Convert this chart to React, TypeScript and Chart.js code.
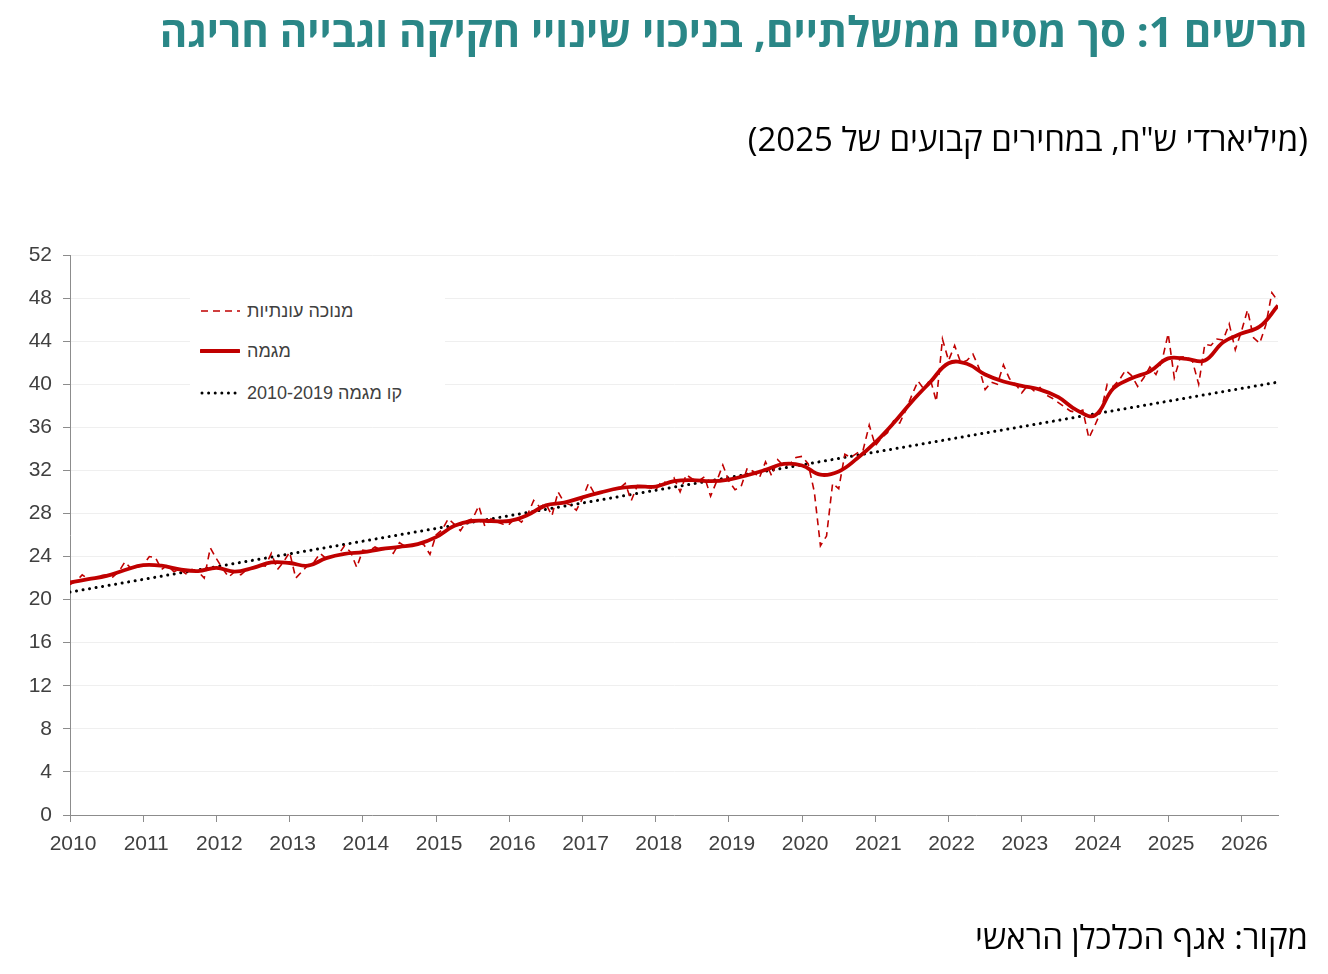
import { useEffect, useRef } from "react";
import { Chart, registerables } from "chart.js";

Chart.register(...registerables);

const START_YEAR = 2010;
const yearTicks = [2010, 2011, 2012, 2013, 2014, 2015, 2016, 2017, 2018, 2019, 2020, 2021, 2022, 2023, 2024, 2025, 2026];
const yTicks = [0, 4, 8, 12, 16, 20, 24, 28, 32, 36, 40, 44, 48, 52];

// monthly, seasonally adjusted (Jan 2010 - Jul 2026)
const seasAdj = [
  21.4, 21.7, 22.3, 21.9, 22.0, 22.2, 22.3, 22.1, 22.6, 23.5, 22.9, 23.0,
  23.2, 24.0, 23.9, 22.8, 23.2, 22.6, 22.8, 22.4, 22.8, 22.6, 22.0, 24.8,
  23.8, 22.9, 22.1, 22.6, 22.3, 22.8, 23.0, 23.2, 23.1, 24.3, 22.8, 23.5,
  24.4, 22.0, 22.6, 23.2, 23.5, 24.3, 23.8, 24.0, 24.2, 25.0, 24.4, 23.0,
  24.6, 24.5, 24.9, 24.6, 24.8, 24.3, 25.3, 24.9, 25.0, 25.3, 25.1, 24.2,
  26.0, 26.5, 27.5, 27.0, 26.4, 27.3, 27.5, 28.7, 26.8, 27.5, 27.2, 27.0,
  27.0, 27.6, 27.2, 27.9, 29.2, 28.6, 28.9, 27.8, 30.0, 29.0, 28.8, 28.3,
  29.4, 30.8, 29.8, 29.9, 30.1, 30.2, 30.3, 30.8, 29.2, 30.6, 30.5, 30.4,
  30.2, 31.0, 30.8, 31.3, 30.0, 31.6, 31.2, 31.0, 31.4, 29.6, 31.0, 32.5,
  31.0, 30.2, 30.5, 32.2, 31.9, 31.3, 32.8, 31.5, 33.0, 32.4, 32.6, 33.2,
  33.3, 32.6, 30.0, 25.0, 25.9, 30.8, 30.3, 33.5, 33.2, 33.6, 33.9, 36.2,
  34.3, 35.0, 35.5, 36.6, 36.4, 37.6, 39.0, 40.3, 39.5, 40.5, 38.4, 44.2,
  42.2, 43.6, 42.0, 42.2, 42.8, 41.5, 39.5, 40.2, 40.0, 41.8, 40.5, 40.0,
  39.2, 39.9, 39.4, 39.7, 39.0, 38.7, 38.3, 37.9, 37.5, 37.4, 37.6, 35.0,
  36.2, 37.5, 40.0, 39.8, 40.4, 41.3, 40.8, 39.8, 40.6, 41.6, 40.9, 42.2,
  44.7, 40.6, 42.5, 42.6, 42.1, 40.0, 43.7, 43.6, 44.2, 44.1, 45.6, 43.2,
  44.9, 46.9, 44.3, 43.8, 45.5, 48.5, 47.7,
];

// trend component, quarterly (Jan, Apr, Jul, Oct)
const trendQuarterly = [
  21.6, 21.9, 22.2, 22.75,
  23.2, 23.15, 22.8, 22.65,
  22.95, 22.6, 22.95, 23.45,
  23.4, 23.15, 23.85, 24.25,
  24.4, 24.7, 24.9, 25.15,
  25.8, 26.85, 27.3, 27.3,
  27.3, 27.85, 28.75, 29.0,
  29.5, 29.95, 30.35, 30.5,
  30.5, 31.0, 31.1, 31.0,
  31.15, 31.55, 32.05, 32.6,
  32.45, 31.6, 31.9, 33.1,
  34.6, 36.4, 38.4, 40.2,
  41.95, 41.9, 40.9, 40.25,
  39.85, 39.5, 38.8, 37.6,
  37.1, 39.6, 40.55, 41.2,
  42.4, 42.35, 42.2, 43.9,
  44.7, 45.35, 47.3,
];

// linear trend fitted on 2010-2019, extended
const trendLineYears = [2010, 2026.5];
const trendLineValues = [20.7, 40.2];

const labels = ["מנוכה עונתיות", "מגמה", "קו מגמה 2010-2019"];

const RED = "#c00000";
const AXIS_GRAY = "#8c8c8c";
const TEXT_GRAY = "#404040";
const AXIS_FONT = "'Liberation Sans', Arial, sans-serif";
const HEAD_FONT = "'Open Sans', 'Liberation Sans', sans-serif";

function ChartCanvas() {
  const canvasRef = useRef<HTMLCanvasElement | null>(null);
  const chartRef = useRef<Chart | null>(null);

  useEffect(() => {
    if (!canvasRef.current) return;

    const saPoints = seasAdj.map((v, i) => ({ x: START_YEAR + i / 12, y: v }));
    const trendPoints = trendQuarterly.map((v, i) => ({ x: START_YEAR + i / 4, y: v }));
    const linePoints = trendLineYears.map((x, i) => ({ x, y: trendLineValues[i] }));

    chartRef.current = new Chart(canvasRef.current, {
      type: "line",
      data: {
        datasets: [
          {
            label: labels[2],
            data: linePoints,
            borderColor: "#000000",
            borderWidth: 3,
            borderDash: [0.01, 6.6],
            borderCapStyle: "round",
            pointRadius: 0,
            order: 3,
          },
          {
            label: labels[0],
            data: saPoints,
            borderColor: RED,
            borderWidth: 1.6,
            borderDash: [7, 5],
            pointRadius: 0,
            tension: 0,
            order: 2,
          },
          {
            label: labels[1],
            data: trendPoints,
            borderColor: RED,
            borderWidth: 3.8,
            pointRadius: 0,
            tension: 0.4,
            order: 1,
          },
        ],
      },
      options: {
        responsive: false,
        animation: false,
        layout: { padding: { top: 255, right: 50, bottom: 99, left: 0 } },
        plugins: { legend: { display: false }, tooltip: { enabled: false } },
        scales: {
          x: {
            type: "linear",
            min: 2010,
            max: 2026.5,
            afterFit: (s: any) => { s.height = 60; },
            afterBuildTicks: (s: any) => { s.ticks = yearTicks.map((v) => ({ value: v })); },
            grid: { drawOnChartArea: false, tickLength: 7, tickColor: AXIS_GRAY },
            border: { color: AXIS_GRAY, width: 1 },
            ticks: {
              includeBounds: false,
              padding: 10,
              labelOffset: 3,
              color: TEXT_GRAY,
              font: { family: AXIS_FONT, size: 21 },
              callback: (v: any) => String(v),
              maxRotation: 0,
              autoSkip: false,
            },
          },
          y: {
            min: 0,
            max: 52,
            afterFit: (s: any) => { s.width = 70; },
            afterBuildTicks: (s: any) => { s.ticks = yTicks.map((v) => ({ value: v })); },
            grid: { color: "#efefef", tickLength: 7, tickColor: AXIS_GRAY },
            border: { color: AXIS_GRAY, width: 1 },
            ticks: {
              padding: 11,
              color: TEXT_GRAY,
              font: { family: AXIS_FONT, size: 21 },
            },
          },
        },
      },
    });

    return () => {
      chartRef.current?.destroy();
      chartRef.current = null;
    };
  }, []);

  return (
    <canvas
      ref={canvasRef}
      width={1328}
      height={974}
      style={{ position: "absolute", left: 0, top: 0, width: 1328, height: 974 }}
    />
  );
}

function LegendRow({ top, text, kind }: { top: number; text: string; kind: "dash" | "solid" | "dot" }) {
  return (
    <div style={{ position: "absolute", left: 200, top: top - 13, height: 26, display: "flex", alignItems: "center" }}>
      <svg width={40} height={10} style={{ display: "block" }}>
        {kind === "dash" && <line x1={1} y1={5} x2={40} y2={5} stroke={RED} strokeWidth={1.6} strokeDasharray="7 5" />}
        {kind === "solid" && <line x1={1} y1={5} x2={39} y2={5} stroke={RED} strokeWidth={4} strokeLinecap="round" />}
        {kind === "dot" && <line x1={2} y1={5} x2={39} y2={5} stroke="#000" strokeWidth={3} strokeDasharray="0.01 6.6" strokeLinecap="round" />}
      </svg>
      <span dir="rtl" style={{ marginLeft: 7, fontSize: 18, color: TEXT_GRAY, fontFamily: AXIS_FONT, whiteSpace: "nowrap" }}>
        {text}
      </span>
    </div>
  );
}

export default function App() {
  return (
    <div style={{ position: "absolute", left: 0, top: 0, width: 1328, height: 974, background: "#fff", overflow: "hidden" }}>
      <ChartCanvas />
      <div
        dir="rtl"
        style={{
          position: "absolute", right: 20, top: 2, whiteSpace: "nowrap",
          fontFamily: HEAD_FONT, fontWeight: 700, fontSize: 42, color: "#2a8787",
        }}
      >
        תרשים 1: סך מסים ממשלתיים, בניכוי שינויי חקיקה וגבייה חריגה
      </div>
      <div
        dir="rtl"
        style={{
          position: "absolute", right: 20, top: 116, whiteSpace: "nowrap",
          fontFamily: HEAD_FONT, fontSize: 33, color: "#000",
        }}
      >
        (מיליארדי ש"ח, במחירים קבועים של 2025)
      </div>
      <div
        dir="rtl"
        style={{
          position: "absolute", right: 20, top: 914, whiteSpace: "nowrap",
          fontFamily: HEAD_FONT, fontSize: 33, color: "#000",
        }}
      >
        מקור: אגף הכלכלן הראשי
      </div>
      <div style={{ position: "absolute", left: 190, top: 290, width: 255, height: 120, background: "#fff" }} />
      <LegendRow top={311} text={labels[0]} kind="dash" />
      <LegendRow top={351} text={labels[1]} kind="solid" />
      <LegendRow top={393} text={labels[2]} kind="dot" />
    </div>
  );
}
